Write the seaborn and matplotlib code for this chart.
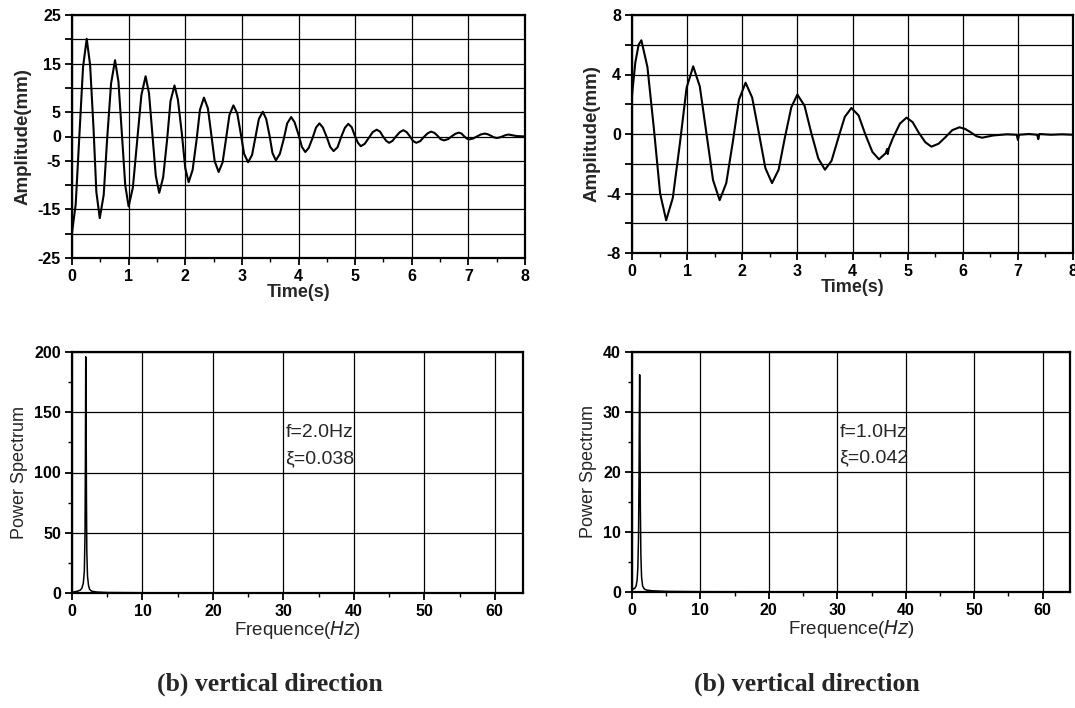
import numpy as np
import pandas as pd
import matplotlib
matplotlib.use("Agg")
import matplotlib.pyplot as plt
import seaborn as sns
from matplotlib.ticker import MultipleLocator

# ---------------- data ----------------
t_left = [0.00, 0.065, 0.13, 0.195, 0.26, 0.32, 0.38, 0.43, 0.49, 0.56, 0.62, 0.69,
          0.76, 0.82, 0.88, 0.94, 1.00, 1.075, 1.15, 1.225, 1.30, 1.36, 1.42, 1.48,
          1.54, 1.61, 1.68, 1.74, 1.81, 1.87, 1.94, 2.00, 2.06, 2.13, 2.20, 2.26,
          2.33, 2.40, 2.46, 2.52, 2.59, 2.66, 2.72, 2.78, 2.85, 2.92, 2.98, 3.04,
          3.11, 3.18, 3.24, 3.30, 3.37, 3.43, 3.49, 3.54, 3.60, 3.67, 3.74, 3.80,
          3.87, 3.93, 4.00, 4.06, 4.12, 4.18, 4.25, 4.31, 4.37, 4.43, 4.50, 4.56,
          4.62, 4.69, 4.75, 4.82, 4.88, 4.94, 4.99, 5.05, 5.10, 5.17, 5.24, 5.31,
          5.38, 5.44, 5.49, 5.55, 5.60, 5.66, 5.72, 5.79, 5.85, 5.91, 5.97, 6.02,
          6.08, 6.15, 6.21, 6.28, 6.34, 6.40, 6.46, 6.51, 6.57, 6.64, 6.70, 6.77,
          6.83, 6.88, 6.92, 6.97, 7.01, 7.08, 7.15, 7.22, 7.29, 7.34, 7.40, 7.45,
          7.50, 7.55, 7.61, 7.66, 7.71, 7.85, 8.00]
amp_left = [-19.8, -14.0, 0.15, 14.3, 20.1, 14.7, 1.7, -11.4, -16.8, -12.0, -0.6, 10.9,
            15.7, 11.3, 0.7, -10.0, -14.4, -10.5, -1.0, 8.5, 12.4, 8.9, 0.4, -8.1,
            -11.6, -8.4, -0.6, 7.3, 10.5, 7.6, 0.6, -6.5, -9.4, -6.9, -0.7, 5.5,
            8.0, 5.8, 0.4, -5.1, -7.3, -5.3, -0.5, 4.4, 6.4, 4.7, 0.6, -3.6,
            -5.3, -3.8, -0.1, 3.6, 5.1, 3.6, 0.1, -3.4, -4.9, -3.6, -0.5, 2.7,
            4.0, 2.95, 0.4, -2.15, -3.2, -2.35, -0.25, 1.85, 2.7, 1.85, -0.15, -2.15,
            -3.0, -2.2, -0.2, 1.8, 2.6, 1.9, 0.3, -1.3, -2.0, -1.5, -0.3, 0.9,
            1.4, 1.0, 0.05, -0.9, -1.3, -0.9, 0.0, 0.9, 1.3, 0.9, 0.0, -0.9,
            -1.3, -0.95, -0.15, 0.65, 1.0, 0.75, 0.1, -0.55, -0.8, -0.55, 0.0, 0.55,
            0.8, 0.6, 0.1, -0.4, -0.6, -0.42, 0.0, 0.42, 0.6, 0.47, 0.15, -0.17,
            -0.3, -0.2, 0.05, 0.3, 0.4, 0.1, 0.0]

t_right = [0.00, 0.06, 0.12, 0.17, 0.28, 0.40, 0.51, 0.62, 0.74, 0.87, 0.99,
           1.11, 1.23, 1.35, 1.47, 1.59, 1.71, 1.83, 1.94, 2.06, 2.18, 2.30, 2.42,
           2.54, 2.66, 2.77, 2.89, 3.00, 3.13, 3.25, 3.38, 3.50, 3.62, 3.74, 3.86,
           3.98, 4.11, 4.23, 4.36, 4.48, 4.60, 4.63, 4.64, 4.66, 4.73, 4.86,
           4.98, 5.09, 5.20, 5.32, 5.43, 5.56, 5.69, 5.81, 5.94, 6.04, 6.15, 6.25,
           6.35, 6.55, 6.80, 6.98, 7.00, 7.02, 7.20, 7.35, 7.37, 7.39, 7.60, 7.80, 8.00]
amp_right = [2.6, 4.8, 6.0, 6.3, 4.5, 0.25, -4.0, -5.8, -4.3, -0.6, 3.1,
             4.55, 3.2, 0.05, -3.1, -4.45, -3.3, -0.5, 2.3, 3.45, 2.45, 0.1, -2.3,
             -3.3, -2.4, -0.3, 1.8, 2.65, 1.9, 0.1, -1.65, -2.4, -1.8, -0.3, 1.15,
             1.75, 1.25, 0.0, -1.2, -1.7, -1.3, -1.0, -1.35, -0.95, -0.3, 0.7,
             1.1, 0.8, 0.1, -0.55, -0.85, -0.66, -0.2, 0.26, 0.45, 0.35, 0.1, -0.15,
             -0.25, -0.1, -0.02, -0.05, -0.4, -0.05, 0.0, -0.05, -0.35, 0.0, -0.05, -0.02, -0.05]

f_left = [0.0, 0.3, 0.8, 1.2, 1.4, 1.6, 1.75, 1.85, 1.9, 1.95, 2.0, 2.05, 2.1,
          2.2, 2.35, 2.5, 2.8, 3.5, 5.0, 10.0, 20.0, 40.0, 64.0]
p_left = [0.5, 1.0, 1.5, 2.5, 4.0, 8.0, 18.0, 50.0, 110.0, 196.0, 150.0, 80.0, 35.0,
          14.0, 6.0, 3.0, 1.5, 0.8, 0.4, 0.2, 0.1, 0.05, 0.0]

f_right = [0.0, 0.2, 0.4, 0.6, 0.75, 0.85, 0.95, 1.02, 1.08, 1.12, 1.16, 1.22,
           1.3, 1.4, 1.55, 1.8, 2.2, 3.0, 5.0, 10.0, 30.0, 64.0]
p_right = [0.8, 0.5, 0.6, 1.0, 2.0, 4.0, 9.0, 18.0, 30.0, 36.2, 28.0, 14.0,
           6.0, 2.5, 1.0, 0.5, 0.3, 0.2, 0.1, 0.05, 0.02, 0.0]

ann_left = ["f=2.0Hz", "ξ=0.038"]
ann_right = ["f=1.0Hz", "ξ=0.042"]
caption = "(b) vertical direction"

# ---------------- style ----------------
sns.set_theme(style="ticks")
plt.rcParams['font.family'] = ['Liberation Sans', 'DejaVu Sans']
plt.rcParams['axes.linewidth'] = 1.6
plt.rcParams['xtick.direction'] = 'out'
plt.rcParams['ytick.direction'] = 'out'

fig = plt.figure(figsize=(10.75, 7.08), dpi=100)

ax_tl = fig.add_axes([72/1075, 1 - 258/708, 453/1075, 243/708])
ax_tr = fig.add_axes([632/1075, 1 - 253/708, 441/1075, 238/708])
ax_bl = fig.add_axes([72/1075, 1 - 593/708, 451/1075, 241/708])
ax_br = fig.add_axes([632/1075, 1 - 592/708, 438/1075, 240/708])

grid_kw = dict(color='black', linewidth=0.9)


def style_axes(ax):
    ax.set_axisbelow(True)
    ax.grid(True, which='major', **grid_kw)
    for s in ax.spines.values():
        s.set_visible(True)
        s.set_linewidth(1.6)
        s.set_color('black')
    ax.tick_params(which='major', length=5, width=1.3, colors='black', pad=3,
                   labelsize=11.5)
    ax.tick_params(which='minor', length=3, width=1.0, colors='black')
    for lab in ax.get_xticklabels() + ax.get_yticklabels():
        lab.set_fontweight('bold')


# top-left
df_tl = pd.DataFrame({"t": t_left, "a": amp_left})
sns.lineplot(data=df_tl, x="t", y="a", ax=ax_tl, color='black', linewidth=1.5,
             estimator=None, sort=False)
ax_tl.set_xlim(0, 8)
ax_tl.set_ylim(-25, 25)
ax_tl.xaxis.set_major_locator(MultipleLocator(1))
ax_tl.xaxis.set_minor_locator(MultipleLocator(0.5))
yt = np.arange(-25, 26, 5)
ax_tl.set_yticks(yt)
ax_tl.set_yticklabels([str(v) if v in (25, 15, 5, 0, -5, -15, -25) else "" for v in yt])
ax_tl.set_xlabel("Time(s)", fontsize=13, fontweight='bold', labelpad=0)
ax_tl.set_ylabel("Amplitude(mm)", fontsize=13.5, fontweight='bold', labelpad=4)
style_axes(ax_tl)

# top-right
df_tr = pd.DataFrame({"t": t_right, "a": amp_right})
sns.lineplot(data=df_tr, x="t", y="a", ax=ax_tr, color='black', linewidth=1.5,
             estimator=None, sort=False)
ax_tr.set_xlim(0, 8)
ax_tr.set_ylim(-8, 8)
ax_tr.xaxis.set_major_locator(MultipleLocator(1))
ax_tr.xaxis.set_minor_locator(MultipleLocator(0.5))
yt2 = np.arange(-8, 9, 2)
ax_tr.set_yticks(yt2)
ax_tr.set_yticklabels([str(v) if v % 4 == 0 else "" for v in yt2])
ax_tr.set_xlabel("Time(s)", fontsize=13, fontweight='bold', labelpad=0)
ax_tr.set_ylabel("Amplitude(mm)", fontsize=13.5, fontweight='bold', labelpad=4)
style_axes(ax_tr)

# bottom-left
df_bl = pd.DataFrame({"f": f_left, "p": p_left})
sns.lineplot(data=df_bl, x="f", y="p", ax=ax_bl, color='black', linewidth=1.1,
             estimator=None, sort=False)
ax_bl.set_xlim(0, 64)
ax_bl.set_ylim(0, 200)
ax_bl.xaxis.set_major_locator(MultipleLocator(10))
ax_bl.xaxis.set_minor_locator(MultipleLocator(5))
ax_bl.yaxis.set_major_locator(MultipleLocator(50))
ax_bl.yaxis.set_minor_locator(MultipleLocator(25))
ax_bl.set_xlabel("Frequence($\\mathit{Hz}$)", fontsize=13.5, labelpad=0)
ax_bl.set_ylabel("Power Spectrum", fontsize=13, labelpad=4)
style_axes(ax_bl)
ax_bl.text(30.3, 133.5, ann_left[0], fontsize=14, ha='left', va='center')
ax_bl.text(30.3, 111, ann_left[1], fontsize=14, ha='left', va='center')

# bottom-right
df_br = pd.DataFrame({"f": f_right, "p": p_right})
sns.lineplot(data=df_br, x="f", y="p", ax=ax_br, color='black', linewidth=1.1,
             estimator=None, sort=False)
ax_br.set_xlim(0, 64)
ax_br.set_ylim(0, 40)
ax_br.xaxis.set_major_locator(MultipleLocator(10))
ax_br.xaxis.set_minor_locator(MultipleLocator(5))
ax_br.yaxis.set_major_locator(MultipleLocator(10))
ax_br.yaxis.set_minor_locator(MultipleLocator(5))
ax_br.set_xlabel("Frequence($\\mathit{Hz}$)", fontsize=13.5, labelpad=0)
ax_br.set_ylabel("Power Spectrum", fontsize=13, labelpad=4)
style_axes(ax_br)
ax_br.text(30.3, 26.6, ann_right[0], fontsize=14, ha='left', va='center')
ax_br.text(30.3, 22.4, ann_right[1], fontsize=14, ha='left', va='center')

fig.text(270/1075, 1 - 684/708, caption, fontsize=18.5, family='Liberation Serif',
         fontweight='bold', ha='center', va='center')
fig.text(807/1075, 1 - 684/708, caption, fontsize=18.5, family='Liberation Serif',
         fontweight='bold', ha='center', va='center')

fig.savefig("out.png", dpi=100, facecolor='white')
